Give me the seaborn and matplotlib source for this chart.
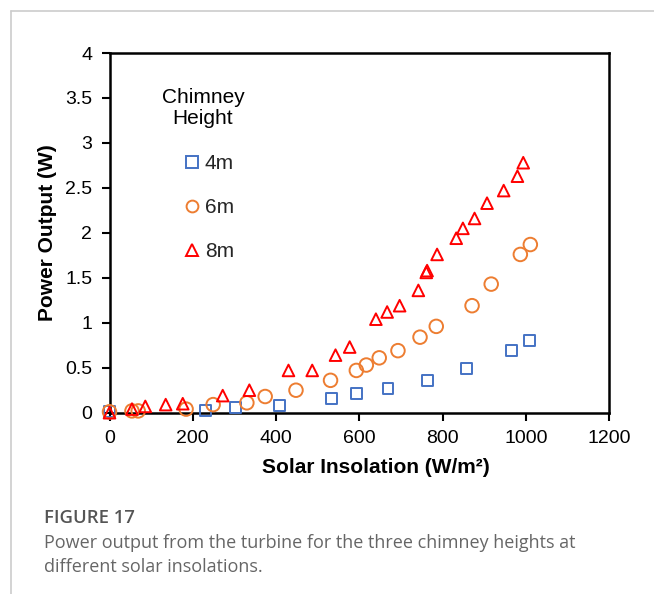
import numpy as np
import pandas as pd
import seaborn as sns
import matplotlib.pyplot as plt
from matplotlib.lines import Line2D

# Solar insolation (W/m²) and power output (W) for each chimney height
x_4m = [0, 230, 303, 408, 534, 593, 669, 765, 857, 966, 1009]
y_4m = [0.01, 0.02, 0.06, 0.08, 0.16, 0.21, 0.27, 0.36, 0.49, 0.69, 0.80]

x_6m = [0, 54, 69, 184, 249, 330, 374, 448, 531, 593, 617, 648, 693, 746, 785,
        871, 917, 987, 1011]
y_6m = [0.01, 0.02, 0.02, 0.04, 0.09, 0.11, 0.18, 0.25, 0.36, 0.47, 0.53, 0.61,
        0.69, 0.84, 0.96, 1.19, 1.43, 1.76, 1.87]

x_8m = [0, 54, 86, 135, 176, 272, 336, 430, 487, 543, 577, 640, 667, 697, 742,
        761, 763, 787, 833, 849, 877, 907, 947, 980, 994]
y_8m = [0.0, 0.04, 0.07, 0.09, 0.10, 0.19, 0.25, 0.47, 0.47, 0.64, 0.73, 1.04,
        1.12, 1.19, 1.36, 1.56, 1.58, 1.76, 1.94, 2.05, 2.16, 2.33, 2.47, 2.63,
        2.78]

series_labels = ["4m", "6m", "8m"]
x_ticks = [0, 200, 400, 600, 800, 1000, 1200]
y_ticks = [0, 0.5, 1, 1.5, 2, 2.5, 3, 3.5, 4]
y_tick_labels = ["0", "0.5", "1", "1.5", "2", "2.5", "3", "3.5", "4"]

df = pd.concat([
    pd.DataFrame({"insolation": x_4m, "power": y_4m, "height": "4m"}),
    pd.DataFrame({"insolation": x_6m, "power": y_6m, "height": "6m"}),
    pd.DataFrame({"insolation": x_8m, "power": y_8m, "height": "8m"}),
])

sns.set_theme(style="white")
plt.rcParams["font.family"] = ["Liberation Sans", "DejaVu Sans"]

W, H = 654, 594
fig = plt.figure(figsize=(W / 100, H / 100), dpi=100)
ax = fig.add_axes([109.5 / W, 1 - 412.7 / H, 499.5 / W, 359.7 / H])

styles = {
    "4m": dict(marker="s", color="#4472C4", s=62),
    "6m": dict(marker="o", color="#ED7D31", s=95),
    "8m": dict(marker="^", color="#FF0000", s=70),
}
for name in series_labels:
    st = styles[name]
    sub = df[df["height"] == name]
    sns.scatterplot(data=sub, x="insolation", y="power", ax=ax,
                    marker=st["marker"], s=st["s"], facecolor="none",
                    edgecolor=st["color"], linewidth=1.4, clip_on=False,
                    zorder=3)

ax.set_xlim(0, 1200)
ax.set_ylim(0, 4)
ax.set_xticks(x_ticks)
ax.set_xticklabels([str(t) for t in x_ticks])
ax.set_yticks(y_ticks)
ax.set_yticklabels(y_tick_labels)
ax.tick_params(axis="both", which="major", labelsize=14, length=5.5,
               width=1.5, color="black", labelcolor="black", direction="out",
               pad=7, bottom=True, left=True)
for sp in ax.spines.values():
    sp.set_color("black")
    sp.set_linewidth(1.8)

ax.set_xlabel("Solar Insolation (W/m²)", fontsize=15, fontweight="bold",
              labelpad=9, color="black")
ax.xaxis.set_label_coords(0.533, -0.125)
ax.set_ylabel("Power Output (W)", fontsize=15, fontweight="bold",
              labelpad=6, color="black")

# Legend
handles = [Line2D([], [], linestyle="none", marker=styles[n]["marker"],
                  markerfacecolor="none", markeredgecolor=styles[n]["color"],
                  markeredgewidth=1.4, markersize=8.5) for n in series_labels]
ax.legend(handles, series_labels, frameon=False, fontsize=15,
          loc="upper left", bbox_to_anchor=(186 / W, 1 - 154 / H),
          bbox_transform=fig.transFigure, handlelength=0.6,
          handletextpad=0.3, labelspacing=1.2, borderpad=0,
          borderaxespad=0)
fig.text(203 / W, 1 - 108 / H, "Chimney\nHeight", ha="center", va="center",
         fontsize=15, linespacing=1.15, color="black")

# Card frame and caption
fig.add_artist(Line2D([11 / W, 1], [1 - 11 / H, 1 - 11 / H], color="#cccccc",
                      linewidth=1.2, transform=fig.transFigure))
fig.add_artist(Line2D([11 / W, 11 / W], [1 - 11 / H, 0], color="#cccccc",
                      linewidth=1.2, transform=fig.transFigure))
fig.text(44 / W, 1 - 518 / H, "FIGURE 17", ha="left", va="center",
         fontsize=13.3, color="#555555", family=["Open Sans", "DejaVu Sans"],
         fontweight="semibold")
fig.text(44 / W, 1 - 555 / H,
         "Power output from the turbine for the three chimney heights at\n"
         "different solar insolations.",
         ha="left", va="center", fontsize=13, color="#666666",
         family=["Open Sans", "DejaVu Sans"], linespacing=1.5)

fig.savefig("out.png", dpi=100, facecolor="white")
